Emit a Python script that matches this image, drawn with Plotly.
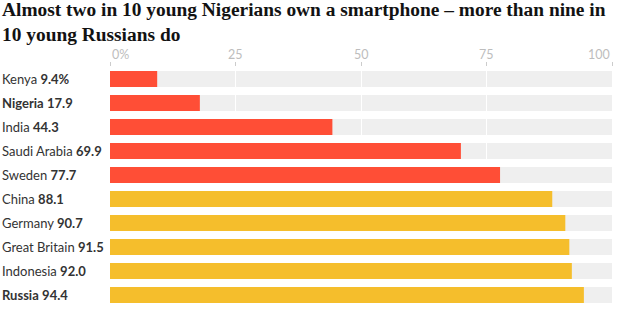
import plotly.graph_objects as go

countries = ["Kenya", "Nigeria", "India", "Saudi Arabia", "Sweden",
             "China", "Germany", "Great Britain", "Indonesia", "Russia"]
values = [9.4, 17.9, 44.3, 69.9, 77.7, 88.1, 90.7, 91.5, 92.0, 94.4]
highlight = [False, True, False, False, False, False, False, False, False, True]
groups = ["low", "low", "low", "low", "low", "high", "high", "high", "high", "high"]
tick_vals = [0, 25, 50, 75, 100]
tick_text = ["0%", "25", "50", "75", "100"]
title = "Almost two in 10 young Nigerians own a smartphone – more than nine in<br>10 young Russians do"

RED = "#ff4e36"
YELLOW = "#f5be2c"
TRACK = "#efefef"
TXT = "#333333"
TICK = "#bdbdbd"
FONT = "Lato"
BARW = 0.667

colors = [RED if g == "low" else YELLOW for g in groups]

fig = go.Figure()
fig.add_trace(go.Bar(
    y=countries, x=values, orientation="h",
    marker=dict(color=colors, line=dict(width=0)),
    width=BARW, hoverinfo="skip",
))

shapes = []
for i, c in enumerate(countries):
    shapes.append(dict(type="rect", xref="x", yref="y", layer="below",
                       x0=0, x1=100, y0=i - BARW / 2, y1=i + BARW / 2,
                       fillcolor=TRACK, line=dict(width=0)))

annotations = []
annotations.append(dict(xref="paper", yref="paper", x=0, xshift=-110, y=1, yshift=20,
                        xanchor="left", yanchor="bottom", align="left", showarrow=False,
                        text=f"<b>{title}</b>",
                        font=dict(family="Liberation Serif", size=19.4, color="#121212")))
for i, (c, v) in enumerate(zip(countries, values)):
    val = f"{v:.1f}" + ("%" if i == 0 else "")
    name = f"<b>{c}</b>" if highlight[i] else c
    annotations.append(dict(xref="paper", yref="y", x=0, xshift=-110, y=c,
                            xanchor="left", yanchor="middle", showarrow=False,
                            text=f"{name} <b>{val}</b>",
                            font=dict(family=FONT, size=13, color=TXT)))
for tv, tt in zip(tick_vals, tick_text):
    anchor = "left" if tv == tick_vals[0] else ("right" if tv == tick_vals[-1] else "center")
    annotations.append(dict(xref="x", yref="paper", x=tv, y=1, yshift=3,
                            xanchor=anchor, yanchor="bottom", showarrow=False,
                            text=tt, font=dict(family=FONT, size=12.5, color=TICK)))

fig.update_layout(
    width=632, height=325,
    margin=dict(l=110, r=20, t=67, b=18),
    paper_bgcolor="white", plot_bgcolor="white",
    showlegend=False,
    xaxis=dict(range=[0, 100], side="top", tickvals=tick_vals, showticklabels=False,
               ticks="outside", ticklen=4, tickcolor="#cccccc", tickwidth=1,
               showgrid=True, gridcolor="white", gridwidth=1,
               zeroline=False, showline=False, fixedrange=True),
    yaxis=dict(categoryorder="array", categoryarray=countries,
               showticklabels=False, showgrid=False, zeroline=False, ticks="",
               range=[len(countries) - 0.5, -0.5]),
    shapes=shapes, annotations=annotations,
    bargap=0.333,
)

fig.write_html("out.html")
